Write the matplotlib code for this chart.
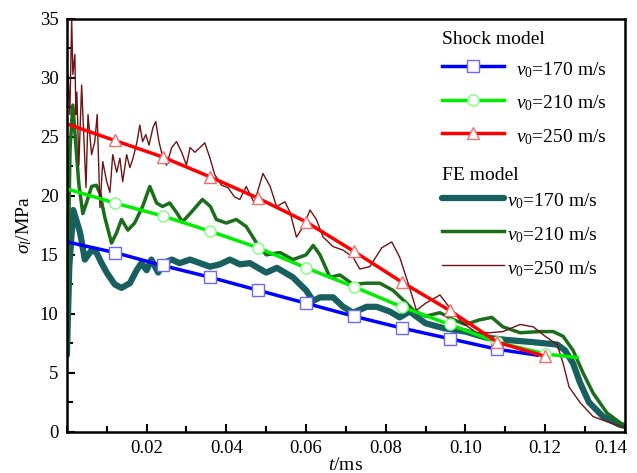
import matplotlib
matplotlib.use('Agg')
import matplotlib.pyplot as plt
from matplotlib.ticker import MultipleLocator, FormatStrFormatter
from matplotlib.transforms import ScaledTranslation

plt.rcParams['font.family'] = 'Liberation Serif'
plt.rcParams['mathtext.fontset'] = 'custom'
plt.rcParams['mathtext.rm'] = 'Liberation Serif'
plt.rcParams['mathtext.it'] = 'Liberation Serif:italic'

# shock model (markers every 0.012 ms)
shock170_t = [0.0, 0.012, 0.024, 0.036, 0.048, 0.060, 0.072, 0.084, 0.096, 0.108, 0.118]
shock170 = [16.1, 15.2, 14.1, 13.1, 12.0, 10.9, 9.8, 8.8, 7.9, 7.0, 6.5]

shock210_t = [0.0, 0.012, 0.024, 0.036, 0.048, 0.060, 0.072, 0.084, 0.096, 0.108, 0.120, 0.128]
shock210 = [20.6, 19.4, 18.3, 17.0, 15.6, 13.9, 12.3, 10.6, 9.1, 7.6, 6.6, 6.3]

shock250_t = [0.0, 0.012, 0.024, 0.036, 0.048, 0.060, 0.072, 0.084, 0.096, 0.108, 0.120]
shock250 = [26.1, 24.7, 23.3, 21.6, 19.8, 17.8, 15.3, 12.7, 10.3, 7.6, 6.4]

# FE model
fe170_t = [0.0, 0.0006, 0.0016, 0.0033, 0.0045, 0.0062, 0.0074, 0.0087, 0.010, 0.012,
           0.0137, 0.0158, 0.0175, 0.0187, 0.020, 0.0212, 0.0229, 0.0242, 0.0263, 0.0283,
           0.0309, 0.0334, 0.0359, 0.0384, 0.0409, 0.0434, 0.0459, 0.050, 0.0527, 0.0567,
           0.060, 0.0618, 0.0635, 0.0668, 0.0693, 0.0718, 0.0752, 0.0777, 0.081, 0.0835,
           0.086, 0.090, 0.0944, 0.100, 0.105, 0.110, 0.117, 0.123, 0.125, 0.127,
           0.1287, 0.131, 0.1345, 0.1387, 0.14]
fe170 = [6.5, 14.0, 18.8, 16.9, 14.6, 15.4, 15.2, 14.3, 13.5, 12.5,
         12.2, 12.6, 13.7, 14.3, 13.7, 14.6, 13.5, 14.3, 14.6, 14.3,
         14.6, 14.3, 14.0, 14.2, 14.6, 14.2, 14.3, 13.5, 13.9, 13.1,
         12.0, 11.1, 11.4, 11.4, 10.6, 10.1, 10.6, 10.6, 10.2, 9.7,
         10.2, 9.2, 8.8, 8.5, 8.0, 7.8, 7.6, 7.4, 6.9, 5.8,
         4.2, 2.5, 1.3, 0.6, 0.5]

fe210_t = [0.0, 0.0008, 0.0015, 0.0022, 0.003, 0.004, 0.005, 0.0062, 0.0074, 0.0083,
           0.0095, 0.0112, 0.0125, 0.0137, 0.0153, 0.017, 0.019, 0.0208, 0.0225, 0.024,
           0.0258, 0.0275, 0.029, 0.0317, 0.034, 0.036, 0.0375, 0.040, 0.0425, 0.045,
           0.0476, 0.050, 0.0535, 0.0567, 0.060, 0.0618, 0.0635, 0.066, 0.0685, 0.0718,
           0.0752, 0.0785, 0.0818, 0.0843, 0.087, 0.090, 0.0936, 0.097, 0.100, 0.1036,
           0.1066, 0.1094, 0.1137, 0.1187, 0.122, 0.1245, 0.127, 0.1295, 0.132, 0.1355,
           0.1395, 0.14]
fe210 = [8.0, 24.0, 27.7, 24.5, 21.0, 18.5, 19.5, 20.8, 20.9, 20.2,
         18.2, 16.0, 16.9, 18.0, 17.1, 17.7, 19.1, 20.8, 19.4, 19.1,
         19.4, 18.6, 17.8, 18.8, 19.7, 19.1, 18.0, 17.7, 18.0, 17.4,
         16.0, 15.0, 15.2, 14.6, 15.0, 15.8, 15.0, 13.1, 13.3, 12.5,
         12.6, 12.6, 12.0, 11.2, 10.3, 9.8, 10.1, 9.5, 9.1, 9.5,
         9.7, 8.9, 8.4, 8.5, 8.5, 8.1, 6.9, 5.0, 3.3, 1.6,
         0.6, 0.5]

fe250_t = [0.0, 0.0003, 0.00075, 0.0012, 0.0015, 0.002, 0.00226, 0.0025, 0.003, 0.0037,
           0.0043, 0.0048, 0.0053, 0.0062, 0.0070, 0.0076, 0.0083, 0.0090, 0.0100, 0.0108,
           0.0115, 0.0125, 0.0133, 0.0140, 0.0150, 0.0158, 0.0166, 0.0176, 0.0183, 0.0190,
           0.0198, 0.0206, 0.0216, 0.0223, 0.0231, 0.0241, 0.0250, 0.0263, 0.0275, 0.0288,
           0.0300, 0.0309, 0.0321, 0.0334, 0.0346, 0.0359, 0.0371, 0.0388, 0.0404, 0.0421,
           0.0434, 0.045, 0.047, 0.0492, 0.051, 0.0526, 0.0547, 0.056, 0.0576, 0.0593,
           0.061, 0.0626, 0.0643, 0.0668, 0.0693, 0.0718, 0.0735, 0.076, 0.079, 0.0815,
           0.0835, 0.086, 0.0877, 0.090, 0.0936, 0.097, 0.0994, 0.1028, 0.1061, 0.1094,
           0.1137, 0.117, 0.120, 0.123, 0.1245, 0.126, 0.1287, 0.132, 0.136, 0.1395]
fe250 = [26.0, 30.3, 26.9, 35.0, 30.3, 32.0, 26.9, 28.8, 22.6, 29.4,
         24.6, 20.7, 26.9, 23.5, 24.6, 26.9, 19.0, 22.9, 21.2, 20.3,
         23.5, 22.0, 23.2, 21.2, 23.5, 22.4, 23.2, 24.6, 26.0, 24.6,
         25.2, 24.3, 25.8, 26.3, 24.6, 23.2, 22.6, 24.1, 24.6, 23.7,
         22.6, 24.1, 23.7, 24.1, 24.5, 23.2, 21.8, 20.9, 20.7, 19.9,
         19.7, 20.8, 19.4, 21.9, 20.8, 19.1, 19.5, 18.6, 16.5, 17.4,
         18.8, 18.0, 16.5, 15.7, 15.4, 14.8, 13.8, 14.0, 15.6, 16.1,
         14.8, 12.2, 10.3, 10.9, 11.6, 10.1, 9.2, 8.4, 8.4, 8.5,
         9.1, 8.9, 8.1, 7.4, 5.8, 3.8, 2.5, 1.3, 0.8, 0.4]

speeds = ['170', '210', '250']

fig = plt.figure(figsize=(6.37, 4.73), dpi=100)
ax = fig.add_axes([0.105, 0.087, 0.876, 0.873])

l_fe170, = ax.plot(fe170_t, fe170, color='#17605f', lw=4.5, solid_capstyle='round')
l_fe210, = ax.plot(fe210_t, fe210, color='#1a6e1a', lw=2.5)
l_fe250, = ax.plot(fe250_t, fe250, color='#6e1414', lw=1.0)

l_s170, = ax.plot(shock170_t, shock170, color='#0000ff', lw=2.5, marker='s', ms=8,
                  mfc='white', mec='#6a6aff', mew=1.0, markevery=list(range(1, 10)))
l_s210, = ax.plot(shock210_t, shock210, color='#00ee00', lw=2.5, marker='o', ms=8,
                  mfc='white', mec='#80ff80', mew=1.0, markevery=list(range(1, 11)))
l_s250, = ax.plot(shock250_t, shock250, color='#ff0000', lw=2.5, marker='^', ms=9,
                  mfc='white', mec='#f07070', mew=1.0, markevery=list(range(1, 11)))

ax.set_xlim(0, 0.14)
ax.set_ylim(0, 35)
ax.xaxis.set_minor_locator(MultipleLocator(0.01))
ax.yaxis.set_major_locator(MultipleLocator(5))
ax.yaxis.set_minor_locator(MultipleLocator(2.5))
ax.set_xticks([0.02, 0.04, 0.06, 0.08, 0.10, 0.12, 0.14])
ax.xaxis.set_major_formatter(FormatStrFormatter('%.2f'))
ax.tick_params(which='both', direction='in', top=False, right=False, labelsize=13.5,
               width=1.5, pad=6)
ax.tick_params(which='major', length=6)
ax.tick_params(which='minor', length=4)
for s in ax.spines.values():
    s.set_linewidth(1.8)

last = ax.get_xticklabels()[-1]
last.set_transform(last.get_transform() + ScaledTranslation(-10 / 72, 0, fig.dpi_scale_trans))

ax.set_xlabel(r'$t$/ms', fontsize=14, labelpad=0)
ax.set_ylabel(r'$\sigma_l$/MPa', fontsize=14, labelpad=4)

lab = [r'$v_0$=%s m/s' % v for v in speeds]
common = dict(frameon=False, fontsize=14, handlelength=3.2, handleheight=1.45,
              labelspacing=0.55, loc='upper left', borderaxespad=0.0, borderpad=0.0)
leg1 = ax.legend([l_s170, l_s210, l_s250], lab, handletextpad=0.6,
                 bbox_to_anchor=(0.672, 0.908), **common)
ax.add_artist(leg1)
ax.legend([l_fe170, l_fe210, l_fe250], lab, handletextpad=0.15,
          bbox_to_anchor=(0.672, 0.589), **common)
ax.text(0.672, 0.95, 'Shock model', transform=ax.transAxes, fontsize=14,
        ha='left', va='center')
ax.text(0.672, 0.621, 'FE model', transform=ax.transAxes, fontsize=14,
        ha='left', va='center')

fig.savefig('out.png', dpi=100)
